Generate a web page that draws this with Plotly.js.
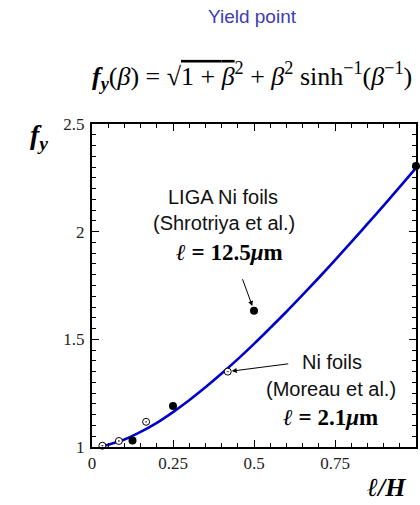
<!DOCTYPE html>
<html>
<head>
<meta charset="utf-8">
<script src="https://cdn.plot.ly/plotly-3.0.1.min.js"></script>
<style>html,body{margin:0;padding:0;background:#fff;}#chart{width:420px;height:505px;}</style>
</head>
<body>
<div id="chart"></div>
<script>
// Theory curve f_y(beta)
const curveX = [0.03, 0.05, 0.1, 0.15, 0.2, 0.25, 0.3, 0.35, 0.4, 0.45, 0.5, 0.55, 0.6, 0.65, 0.7, 0.75, 0.8, 0.85, 0.9, 0.95, 1.0];
const curveY = [1.004, 1.011, 1.035, 1.070, 1.112, 1.162, 1.217, 1.277, 1.341, 1.408, 1.479, 1.553, 1.628, 1.706, 1.786, 1.868, 1.951, 2.036, 2.121, 2.208, 2.296];
// LIGA Ni foils (Shrotriya et al.) - filled circles
const ligaX = [0.125, 0.25, 0.5, 1.0];
const ligaY = [1.03, 1.19, 1.633, 2.305];
// Ni foils (Moreau et al.) - open circles
const moreauX = [0.032, 0.083, 0.167, 0.419];
const moreauY = [1.006, 1.028, 1.117, 1.35];
// tick labels
const xTickVals = [0, 0.25, 0.5, 0.75, 1];
const xTickText = ['0', '0.25', '0.5', '0.75', '1'];
const yTickVals = [1, 1.5, 2, 2.5];
const yTickText = ['1', '1.5', '2', '2.5'];

const serif = '"Liberation Serif", "DejaVu Serif", serif';
const sans = '"Liberation Sans", Arial, sans-serif';

const traces = [
  {x: curveX, y: curveY, mode: 'lines', line: {color: '#0000cc', width: 2.6, shape: 'spline'}, hoverinfo: 'skip'},
  {x: moreauX, y: moreauY, mode: 'markers', marker: {symbol: 'circle-dot', size: 7, color: '#ffffff', line: {color: '#000000', width: 1}}, cliponaxis: false},
  {x: ligaX, y: ligaY, mode: 'markers', marker: {symbol: 'circle', size: 8, color: '#000000'}, cliponaxis: false}
];

const axisCommon = {
  showline: true, linecolor: '#000', linewidth: 2, mirror: 'allticks',
  ticks: 'inside', ticklen: 7, tickwidth: 1, tickcolor: '#000',
  showgrid: false, zeroline: false, fixedrange: true,
  tickfont: {family: serif, size: 17, color: '#222'},
  tickmode: 'array'
};

function px(x) { return (x - 92) / 324; }
function py(y) { return (447 - y) / 323; }

const layout = {
  width: 420, height: 505,
  margin: {l: 92, r: 4, t: 124, b: 58},
  paper_bgcolor: '#fff', plot_bgcolor: '#fff',
  showlegend: false,
  title: {text: 'Yield point', x: 252/420, xanchor: 'center', y: 1 - 16/505, yanchor: 'middle', yref: 'container', xref: 'container',
          font: {family: sans, size: 19, color: '#3c3cb4'}},
  xaxis: Object.assign({}, axisCommon, {range: [0, 1], tickvals: xTickVals, ticktext: xTickText,
    minor: {dtick: 0.05, ticks: 'inside', ticklen: 4, tickwidth: 1, tickcolor: '#000'}}),
  yaxis: Object.assign({}, axisCommon, {range: [1, 2.5], tickvals: yTickVals, ticktext: yTickText, ticklabelstandoff: 2,
    minor: {dtick: 0.05, ticks: 'inside', ticklen: 4, tickwidth: 1, tickcolor: '#000'}}),
  annotations: [
    {xref: 'paper', yref: 'paper', x: px(252), y: py(76), xanchor: 'center', yanchor: 'middle', showarrow: false,
     text: '<b><i>f<sub>y</sub></i></b>(<i>β</i>) = √<span style="text-decoration:overline">1 + <i>β</i></span><sup>2</sup> + <i>β</i><sup>2</sup> sinh<sup>−1</sup>(<i>β</i><sup>−1</sup>)',
     font: {family: serif, size: 26, color: '#000'}},
    {xref: 'paper', yref: 'paper', x: px(39), y: py(136), xanchor: 'center', yanchor: 'middle', showarrow: false,
     text: '<b><i>f<sub>y</sub></i></b>', font: {family: serif, size: 28, color: '#000'}},
    {xref: 'paper', yref: 'paper', x: px(386), y: py(488), xanchor: 'center', yanchor: 'middle', showarrow: false,
     text: '<b><i>ℓ/H</i></b>', font: {family: serif, size: 26, color: '#000'}},
    {xref: 'paper', yref: 'paper', x: px(223), y: py(197), xanchor: 'center', yanchor: 'middle', showarrow: false,
     text: 'LIGA Ni foils', font: {family: sans, size: 20, color: '#111'}},
    {xref: 'paper', yref: 'paper', x: px(224), y: py(223), xanchor: 'center', yanchor: 'middle', showarrow: false,
     text: '(Shrotriya et al.)', font: {family: sans, size: 20, color: '#111'}},
    {xref: 'paper', yref: 'paper', x: px(229), y: py(253), xanchor: 'center', yanchor: 'middle', showarrow: false,
     text: '<b><i>ℓ</i> = 12.5<i>μ</i>m</b>', font: {family: serif, size: 23, color: '#000'}},
    {xref: 'paper', yref: 'paper', x: px(332), y: py(362), xanchor: 'center', yanchor: 'middle', showarrow: false,
     text: 'Ni foils', font: {family: sans, size: 20, color: '#111'}},
    {xref: 'paper', yref: 'paper', x: px(331), y: py(389), xanchor: 'center', yanchor: 'middle', showarrow: false,
     text: '(Moreau et al.)', font: {family: sans, size: 20, color: '#111'}},
    {xref: 'paper', yref: 'paper', x: px(330), y: py(417), xanchor: 'center', yanchor: 'middle', showarrow: false,
     text: '<b><i>ℓ</i> = 2.1<i>μ</i>m</b>', font: {family: serif, size: 23, color: '#000'}},
    {xref: 'x', yref: 'y', x: ligaX[2], y: ligaY[2], ax: -12, ay: -33, text: '',
     showarrow: true, arrowhead: 2, arrowsize: 1, arrowwidth: 1, arrowcolor: '#000', standoff: 5},
    {xref: 'x', yref: 'y', x: moreauX[3], y: moreauY[3], ax: 62, ay: -8, text: '',
     showarrow: true, arrowhead: 2, arrowsize: 1, arrowwidth: 1, arrowcolor: '#000', standoff: 4}
  ]
};

Plotly.newPlot('chart', traces, layout, {displayModeBar: false, staticPlot: true});
</script>
</body>
</html>
